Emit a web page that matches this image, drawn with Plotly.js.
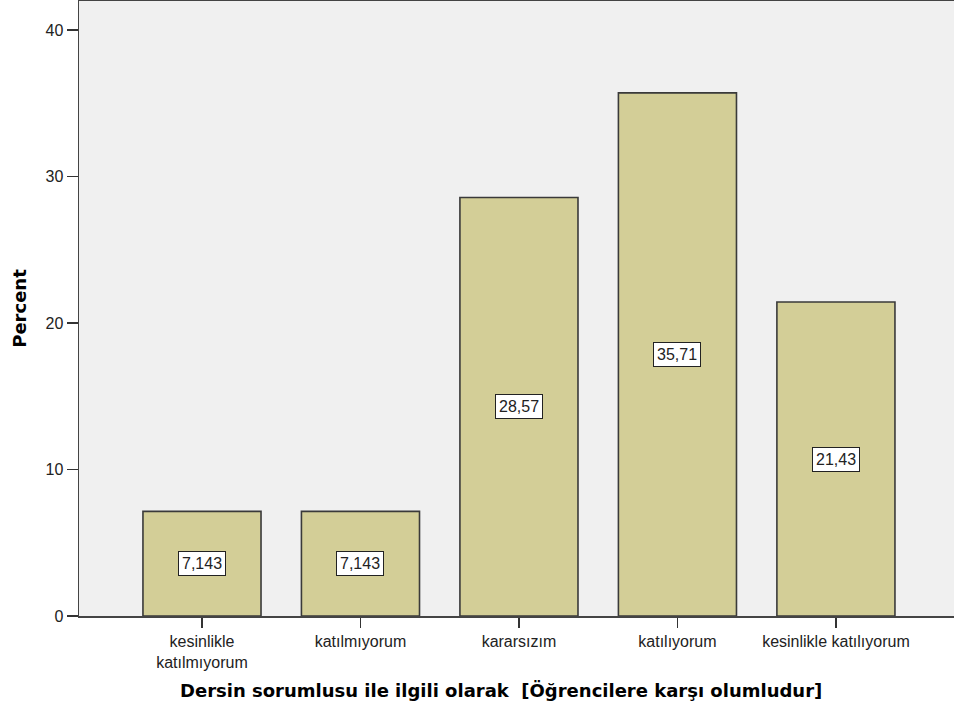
<!DOCTYPE html>
<html>
<head>
<meta charset="utf-8">
<script src="https://cdn.plot.ly/plotly-3.0.1.min.js"></script>
<style>html,body{margin:0;padding:0;background:#fff;}#chart{width:954px;height:707px;}</style>
</head>
<body>
<div id="chart"></div>
<script>
const categories = ["kesinlikle<br>katılmıyorum", "katılmıyorum", "kararsızım", "katılıyorum", "kesinlikle katılıyorum"];
const percents = [7.143, 7.143, 28.57, 35.71, 21.43];
const labels = ["7,143", "7,143", "28,57", "35,71", "21,43"];
const yTicks = [0, 10, 20, 30, 40];
const xTitle = "Dersin sorumlusu ile ilgili olarak \u00a0[Öğrencilere karşı olumludur]";
const yTitle = "Percent";

const idx = categories.map((c, i) => i);

const trace = {
  type: "bar",
  x: idx,
  y: percents,
  width: 0.745,
  marker: {color: "#D3CE97", line: {color: "#3a3a3a", width: 1.6}},
  hoverinfo: "none"
};

const annotations = idx.map(i => ({
  x: i, y: percents[i] / 2, xref: "x", yref: "y",
  text: labels[i], showarrow: false,
  font: {family: "Liberation Sans, Arial, sans-serif", size: 16, color: "#222"},
  bgcolor: "#ffffff", bordercolor: "#222", borderwidth: 1, borderpad: 3
}));

annotations.push({
  xref: "paper", yref: "paper", x: 0.482, y: 0, yshift: -74,
  xanchor: "center", yanchor: "middle",
  text: xTitle, showarrow: false,
  font: {family: "DejaVu Sans, sans-serif", size: 18, color: "#000", weight: "bold"}
});

const layout = {
  width: 954, height: 707,
  margin: {l: 79, r: 0, t: 1, b: 91},
  paper_bgcolor: "#ffffff",
  plot_bgcolor: "#F0F0F0",
  showlegend: false,
  bargap: 0,
  xaxis: {
    range: [-0.776, 4.745],
    tickmode: "array", tickvals: idx, ticktext: categories,
    ticks: "outside", ticklen: 10, tickwidth: 1.5, tickcolor: "#333",
    showline: true, linecolor: "#444", linewidth: 1.5, mirror: true,
    showgrid: false, zeroline: false,
    tickfont: {family: "Liberation Sans, Arial, sans-serif", size: 16, color: "#222"}
  },
  yaxis: {
    range: [0, 41.98],
    tickmode: "array", tickvals: yTicks, ticktext: yTicks.map(String),
    ticks: "outside", ticklen: 11, tickwidth: 1.5, tickcolor: "#333",
    showline: true, linecolor: "#444", linewidth: 1.5,
    showgrid: false, zeroline: false,
    tickfont: {family: "Liberation Sans, Arial, sans-serif", size: 16, color: "#222"},
    title: {text: yTitle, standoff: 14, font: {family: "DejaVu Sans, sans-serif", size: 18, color: "#000", weight: "bold"}}
  },
  annotations: annotations
};

Plotly.newPlot("chart", [trace], layout, {staticPlot: true, displayModeBar: false});
</script>
</body>
</html>
